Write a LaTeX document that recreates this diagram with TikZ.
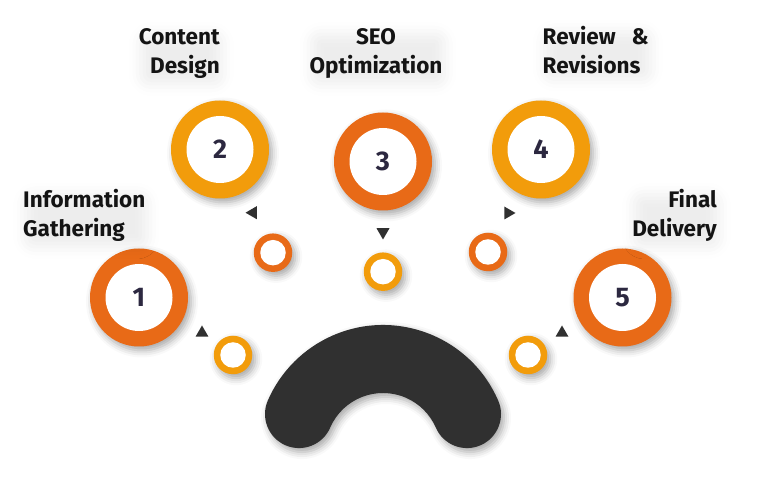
\documentclass[tikz,border=0pt]{standalone}
\usepackage{fontspec}
\setmainfont{Fira Sans}
\usetikzlibrary{shapes.geometric,shadows.blur}
\definecolor{darkor}{HTML}{E86A17}
\definecolor{amber}{HTML}{F29C0B}
\definecolor{archc}{HTML}{303030}
\definecolor{numc}{HTML}{2C2840}
\definecolor{txtc}{HTML}{141414}
\tikzset{
  shad/.style={blur shadow={shadow xshift=3pt, shadow yshift=-4pt, shadow blur radius=7pt, shadow opacity=35}},
  txtshad/.style={blur shadow={shadow xshift=2pt, shadow yshift=-5pt, shadow blur radius=12pt, shadow opacity=7}},
  bigring/.style={circle, minimum size=98pt, inner sep=0pt, shad},
  bigin/.style={circle, fill=white, minimum size=67pt, inner sep=0pt, text=numc,
    font=\bfseries\fontsize{27}{27}\selectfont},
  smallring/.style={circle, minimum size=38.5pt, inner sep=0pt, shad},
  smallin/.style={circle, fill=white, minimum size=25.5pt, inner sep=0pt},
  tri/.style={regular polygon, regular polygon sides=3, fill=archc, minimum size=15pt, inner sep=0pt},
  lbl/.style={text=txtc, inner sep=0pt, font=\bfseries\fontsize{22.5}{29}\selectfont, txtshad, rounded corners=10pt}
}
\begin{document}
\begin{tikzpicture}[x=1pt,y=1pt]
\useasboundingbox (0,0) rectangle (768,497);
% arch
\coordinate (ac) at (383,46.4);
\fill[archc, shad] (ac) ++(23.5:125.6) arc[start angle=23.5, end angle=156.5, radius=125.6]
  arc[start angle=156.5, end angle=336.5, radius=34]
  arc[start angle=156.5, end angle=23.5, radius=57.6]
  arc[start angle=203.5, end angle=383.5, radius=34] -- cycle;
% big circles
\node[bigring, fill=darkor] (b1) at (139,199.5) {};
\node[bigin] (n1) at (b1) {1};
\node[bigring, fill=amber] (b2) at (220,347.5) {};
\node[bigin] (n2) at (b2) {2};
\node[bigring, fill=darkor] (b3) at (383,335.5) {};
\node[bigin] (n3) at (b3) {3};
\node[bigring, fill=amber] (b4) at (541,347.5) {};
\node[bigin] (n4) at (b4) {4};
\node[bigring, fill=darkor] (b5) at (622.5,199.5) {};
\node[bigin] (n5) at (b5) {5};
% small circles
\node[smallring, fill=amber] (s1) at (233,142) {};
\node[smallin] at (s1) {};
\node[smallring, fill=darkor] (s2) at (273,244.3) {};
\node[smallin] at (s2) {};
\node[smallring, fill=amber] (s3) at (383,225.3) {};
\node[smallin] at (s3) {};
\node[smallring, fill=darkor] (s4) at (488,245) {};
\node[smallin] at (s4) {};
\node[smallring, fill=amber] (s5) at (528,142) {};
\node[smallin] at (s5) {};
% triangles
\node[tri] (t1) at (202,164) {};
\node[tri, shape border rotate=90] (t2) at (253,284.3) {};
\node[tri, shape border rotate=180] (t3) at (383,265) {};
\node[tri, shape border rotate=-90] (t4) at (508,284) {};
\node[tri] (t5) at (562,164) {};
% labels (anchor = baseline of the last line)
\node[lbl, anchor=base west, align=left] (l1) at (23,260) {Information\\Gathering};
\node[lbl, anchor=base east, align=right] (l2) at (220,423) {Content\\Design};
\node[lbl, anchor=base, align=center] (l3) at (376,423) {SEO\\Optimization};
\node[lbl, anchor=base west, align=left] (l4) at (542.5,423) {Review~~~\&\\Revisions};
\node[lbl, anchor=base east, align=right] (l5) at (717,260) {Final\\Delivery};
\end{tikzpicture}
\end{document}
